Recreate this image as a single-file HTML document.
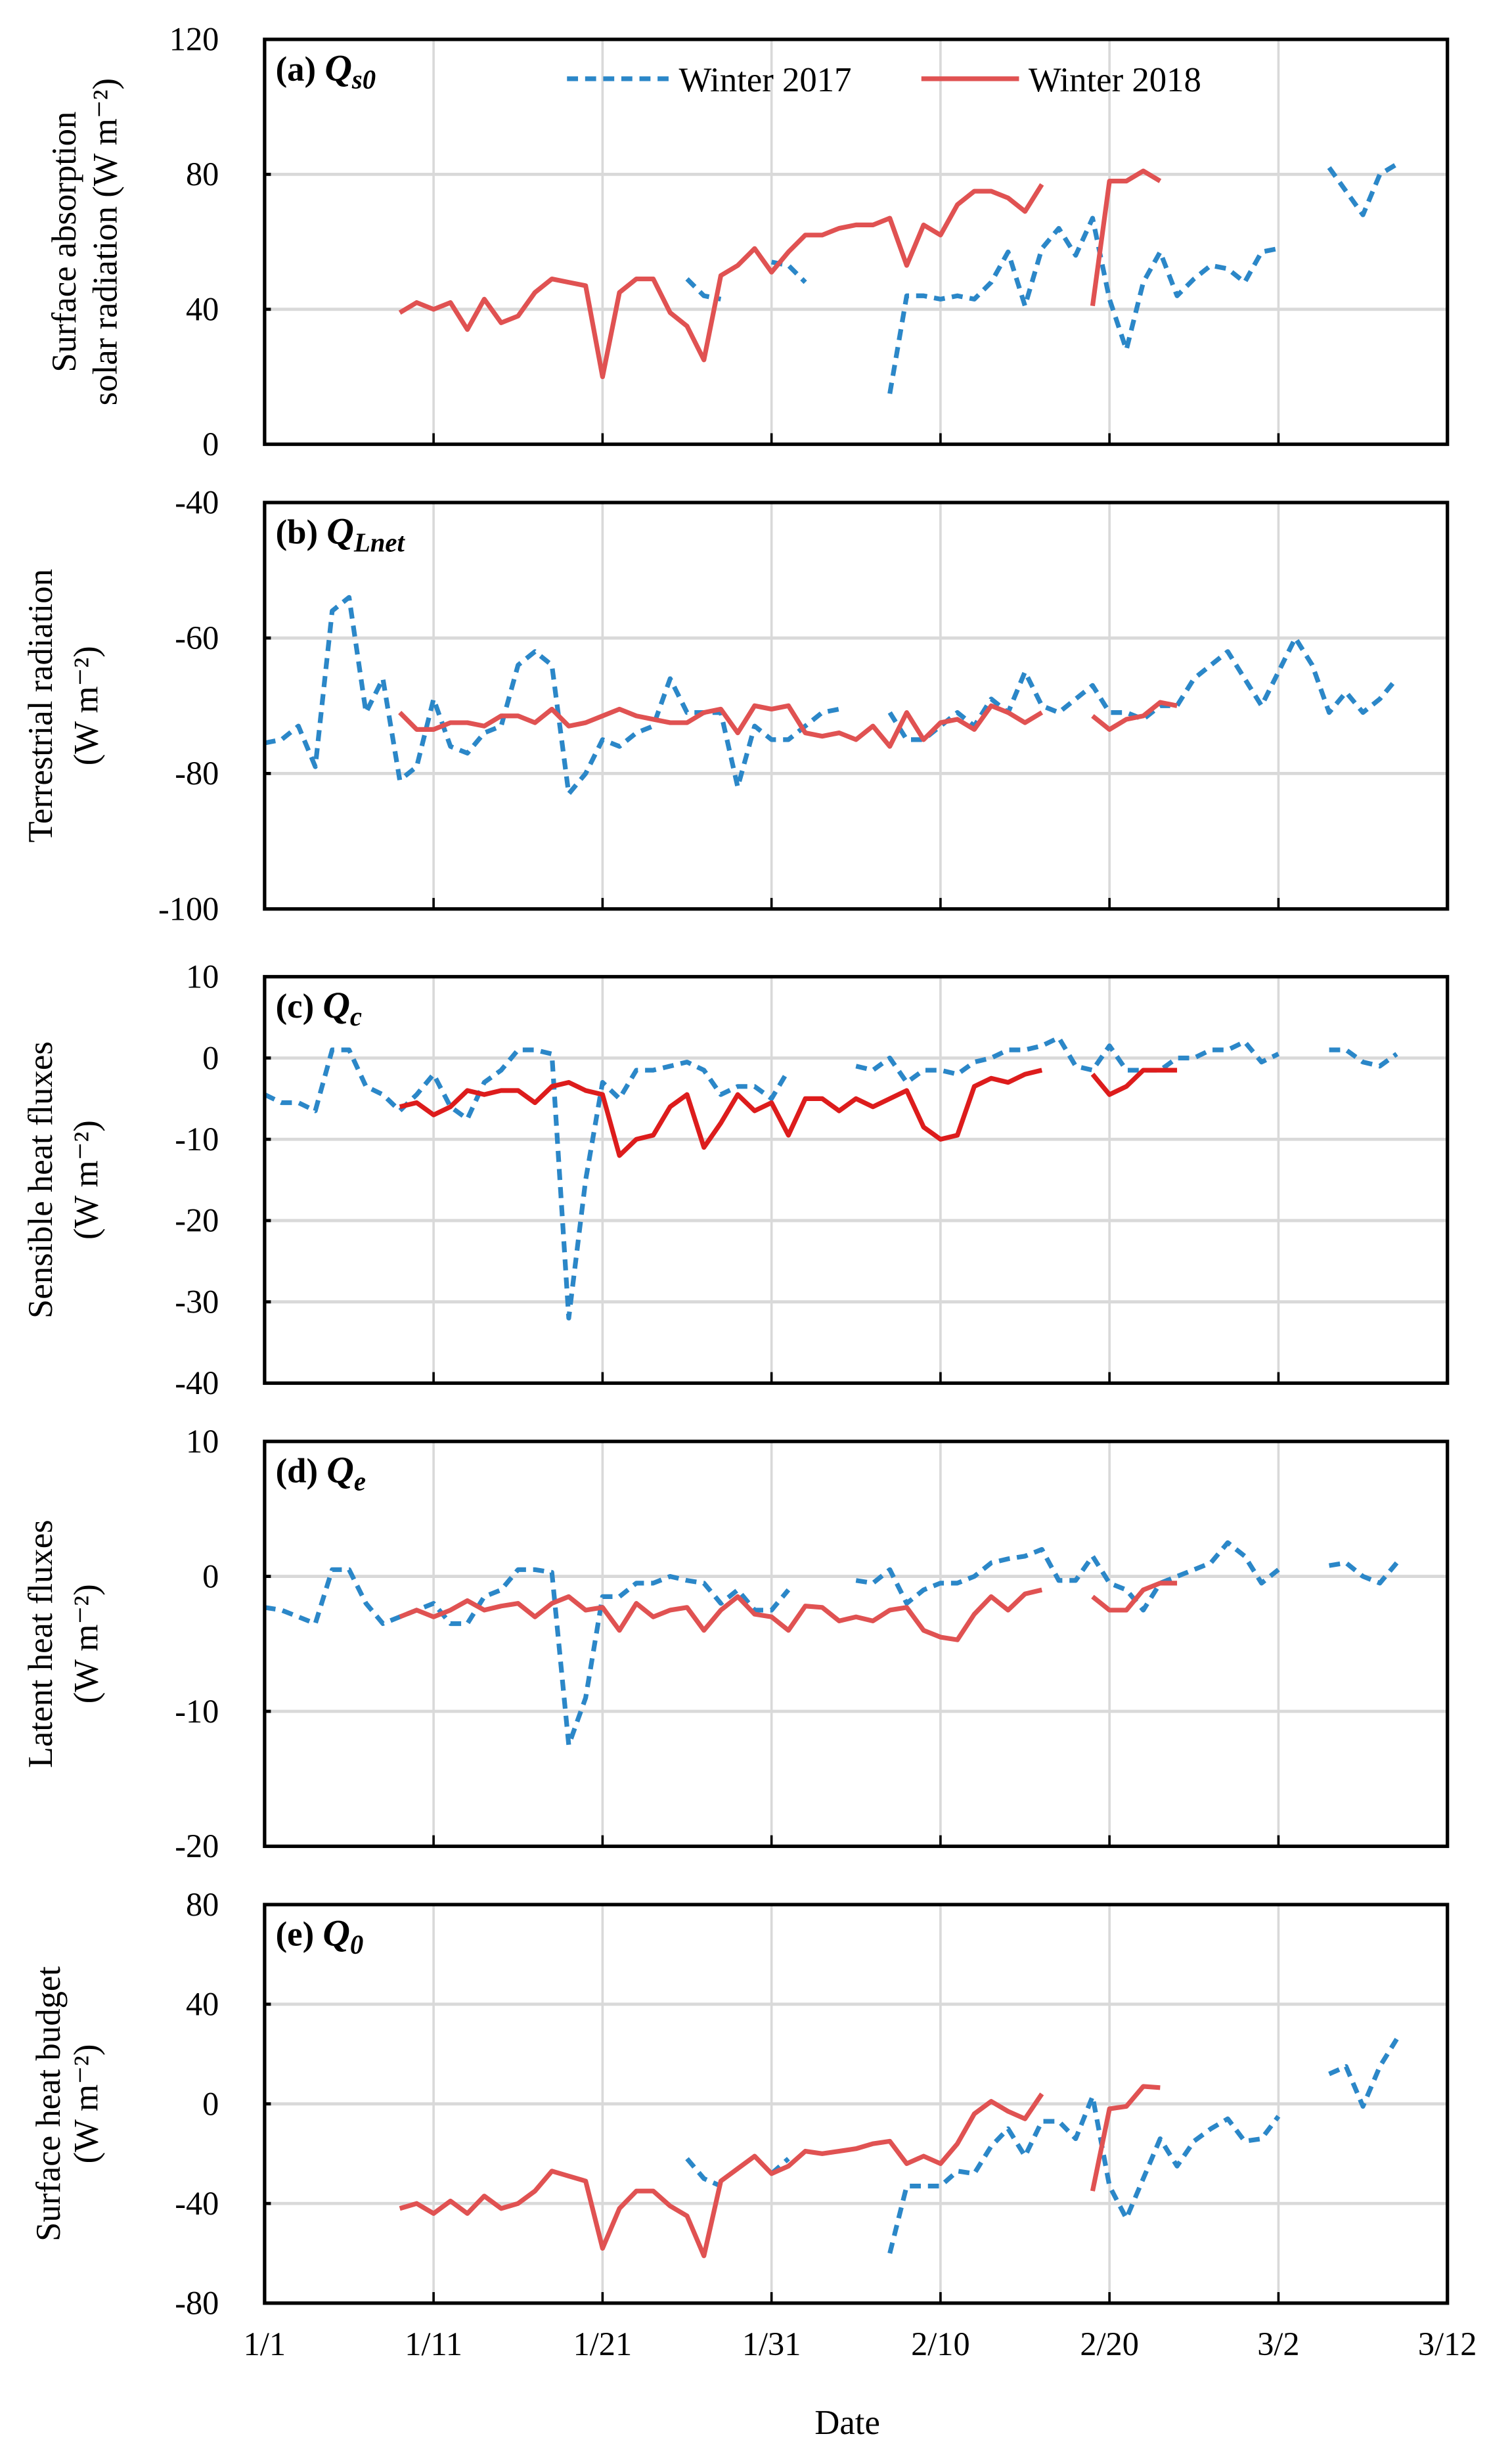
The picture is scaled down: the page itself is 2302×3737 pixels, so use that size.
<!DOCTYPE html>
<html><head><meta charset="utf-8"><style>
html,body{margin:0;padding:0;background:#fff}
svg{display:block}
text{font-family:"Liberation Serif",serif;fill:#000}
</style></head><body>
<svg id="chart" width="2302" height="3737" viewBox="0 0 960 1558.4" preserveAspectRatio="none" xmlns="http://www.w3.org/2000/svg"></svg>
<script>
// ---- data (day index 0 = 1/1) ----
const xTickLabels = ["1/1","1/11","1/21","1/31","2/10","2/20","3/2","3/12"];
const xTickDays = [0,10,20,30,40,50,60,70];

const qs0_2017_start = 25;
const qs0_2017 = [49,44,43,null,null,54,53,48,null,null,null,null,15,44,44,43,44,43,48,57,41,58,64,56,67,43,28,48,57,44,49,53,52,48,57,58,null,null,82,75,68,80,83];
const qs0_2018_start = 8;
const qs0_2018 = [39,42,40,42,34,43,36,38,45,49,48,47,20,45,49,49,39,35,25,50,53,58,51,57,62,62,64,65,65,67,53,65,62,71,75,75,73,69,77,null,null,41,78,78,81,78];

const qln_2017_start = 0;
const qln_2017 = [-75.5,-75,-73,-79,-56,-54,-71,-66,-81,-79,-69,-76,-77,-74,-73,-64,-62,-64,-83,-80,-75,-76,-74,-73,-66,-71,-71,-71,-82,-73,-75,-75,-73,-71,-70.5,null,null,-71,-75,-75,-73,-71,-73,-69,-71,-65,-70,-71,-69,-67,-71,-71,-72,-70,-70,-66,-64,-62,-66,-70,-65,-60,-64,-71,-68,-71,-69,-66];
const qln_2018_start = 8;
const qln_2018 = [-71,-73.5,-73.5,-72.5,-72.5,-73,-71.5,-71.5,-72.5,-70.5,-73,-72.5,-71.5,-70.5,-71.5,-72,-72.5,-72.5,-71,-70.5,-74,-70,-70.5,-70,-74,-74.5,-74,-75,-73,-76,-71,-75,-72.5,-72,-73.5,-70,-71,-72.5,-71,null,null,-71.5,-73.5,-72,-71.5,-69.5,-70];

const qc_2017_start = 0;
const qc_2017 = [-4.5,-5.5,-5.5,-6.5,1,1,-3.5,-4.5,-6.5,-4.5,-2,-6,-7.5,-3,-1.5,1,1,0.5,-32,-15,-3,-5,-1.5,-1.5,-1,-0.5,-1.5,-4.5,-3.5,-3.5,-5,-1.5,null,null,null,-1,-1.5,0,-3,-1.5,-1.5,-2,-0.5,0,1,1,1.5,2.5,-1,-1.5,1.5,-1.5,-1.5,-1.5,0,0,1,1,2,-0.5,0.5,null,null,1,1,-0.5,-1,0.5];
const qc_2018_start = 8;
const qc_2018 = [-6,-5.5,-7,-6,-4,-4.5,-4,-4,-5.5,-3.5,-3,-4,-4.5,-12,-10,-9.5,-6,-4.5,-11,-8,-4.5,-6.5,-5.5,-9.5,-5,-5,-6.5,-5,-6,-5,-4,-8.5,-10,-9.5,-3.5,-2.5,-3,-2,-1.5,null,null,-2,-4.5,-3.5,-1.5,-1.5,-1.5];

const qe_2017_start = 0;
const qe_2017 = [-2.3,-2.5,-3,-3.5,0.5,0.5,-2,-3.5,-3,-2.5,-2,-3.5,-3.5,-1.5,-1,0.5,0.5,0.3,-12.5,-9,-1.5,-1.5,-0.5,-0.5,0,-0.3,-0.5,-2,-1,-2.5,-2.5,-1,null,null,null,-0.3,-0.5,0.5,-2,-1,-0.5,-0.5,0,1,1.3,1.5,2,-0.3,-0.3,1.5,-0.5,-1,-2.5,-0.5,0,0.5,1,2.5,1.5,-0.5,0.5,null,null,0.8,1,0,-0.5,1];
const qe_2018_start = 8;
const qe_2018 = [-3,-2.5,-3,-2.5,-1.8,-2.5,-2.2,-2,-3,-2,-1.5,-2.5,-2.3,-4,-2,-3,-2.5,-2.3,-4,-2.5,-1.5,-2.8,-3,-4,-2.2,-2.3,-3.3,-3,-3.3,-2.5,-2.3,-4,-4.5,-4.7,-2.8,-1.5,-2.5,-1.3,-1,null,null,-1.5,-2.5,-2.5,-1,-0.5,-0.5];

const q0_2017_start = 25;
const q0_2017 = [-22,-30,-33,null,null,-28,-22,null,null,null,null,null,-60,-33,-33,-33,-27,-28,-17,-10,-21,-7,-7,-14,3,-33,-46,-30,-14,-25,-15,-10,-6,-15,-14,-5,null,null,12,15,-1,15,26];
const q0_2018_start = 8;
const q0_2018 = [-42,-40,-44,-39,-44,-37,-42,-40,-35,-27,-29,-31,-58,-42,-35,-35,-41,-45,-61,-31,-26,-21,-28,-25,-19,-20,-19,-18,-16,-15,-24,-21,-24,-16,-4,1,-3,-6,4,null,null,-35,-2,-1,7,6.5];

const ticksA = [0,40,80,120];
const ticksB = [-100,-80,-60,-40];
const ticksC = [-40,-30,-20,-10,0,10];
const ticksD = [-20,-10,0,10];
const ticksE = [-80,-40,0,40,80];

// ---- drawing ----
const NS = "http://www.w3.org/2000/svg";
const svg = document.getElementById("chart");
const X0 = 168, X1 = 919, DAYS = 70;
const xs = d => X0 + (X1 - X0) * d / DAYS;
function mk(tag, attrs, parent) {
  const e = document.createElementNS(NS, tag);
  for (const k in attrs) e.setAttribute(k, attrs[k]);
  (parent || svg).appendChild(e);
  return e;
}
const BLUE = "#2b87c8", RED = "#e05252";

const panels = [
  {key:"a", top:25, bot:282, ticks:ticksA, label:"(a) ", sym:"Q", sub:"s0",
   s17:[qs0_2017_start, qs0_2017], s18:[qs0_2018_start, qs0_2018], title:["Surface absorption","solar radiation (W m\u207B\u00B2)"], tx:[48,74], red:RED},
  {key:"b", top:319, bot:577, ticks:ticksB, label:"(b) ", sym:"Q", sub:"Lnet",
   s17:[qln_2017_start, qln_2017], s18:[qln_2018_start, qln_2018], title:["Terrestrial radiation","(W m\u207B\u00B2)"], tx:[33,62], red:RED},
  {key:"c", top:620, bot:878, ticks:ticksC, label:"(c) ", sym:"Q", sub:"c",
   s17:[qc_2017_start, qc_2017], s18:[qc_2018_start, qc_2018], title:["Sensible heat fluxes","(W m\u207B\u00B2)"], tx:[33,62], red:"#dd1c1c"},
  {key:"d", top:915, bot:1172, ticks:ticksD, label:"(d) ", sym:"Q", sub:"e",
   s17:[qe_2017_start, qe_2017], s18:[qe_2018_start, qe_2018], title:["Latent heat fluxes","(W m\u207B\u00B2)"], tx:[33,62], red:RED},
  {key:"e", top:1209, bot:1462, ticks:ticksE, label:"(e) ", sym:"Q", sub:"0",
   s17:[q0_2017_start, q0_2017], s18:[q0_2018_start, q0_2018], title:["Surface heat budget","(W m\u207B\u00B2)"], tx:[38,62], red:RED}
];

function drawSeries(g, ys, start, vals, color, dashed, name) {
  let seg = [];
  const segs = [];
  vals.forEach((v, i) => {
    if (v === null) { if (seg.length) segs.push(seg); seg = []; }
    else seg.push([xs(start + i), ys(v)]);
  });
  if (seg.length) segs.push(seg);
  segs.forEach(s => {
    const p = mk("polyline", {points: s.map(q => q[0].toFixed(2)+","+q[1].toFixed(2)).join(" "),
      fill:"none", stroke:color, "stroke-width":3, "stroke-linejoin":"round",
      "stroke-dasharray": dashed ? "7 4.5" : "none"}, g);
    
    
  });
}

panels.forEach(P => {
  const g = mk("g", {});
  
  
  const lo = P.ticks[0], hi = P.ticks[P.ticks.length - 1];
  const ys = v => P.bot - (P.bot - P.top) * (v - lo) / (hi - lo);
  xTickDays.slice(1, -1).forEach(d => {
    const l = mk("line", {x1:xs(d), x2:xs(d), y1:P.top, y2:P.bot, stroke:"#d9d9d9", "stroke-width":1.5}, g);
    
    
    const t = mk("line", {x1:xs(d), x2:xs(d), y1:P.bot-7, y2:P.bot, stroke:"#000", "stroke-width":1.5}, g);
    
    
  });
  P.ticks.forEach((v, i) => {
    const y = ys(v);
    if (i > 0 && i < P.ticks.length - 1) {
      const l = mk("line", {x1:X0, x2:X1, y1:y, y2:y, stroke:"#d9d9d9", "stroke-width":2}, g);
      
      
      const tk = mk("line", {x1:X0, x2:X0+4, y1:y, y2:y, stroke:"#000", "stroke-width":2}, g);
      
      
    }
    const t = mk("text", {x:139, y:y+7, "text-anchor":"end", "font-size":21}, g);
    t.textContent = v;
    
    
  });
  drawSeries(g, ys, P.s17[0], P.s17[1], BLUE, true, 'series-winter-2017');
  drawSeries(g, ys, P.s18[0], P.s18[1], P.red, false, 'series-winter-2018');
  const box = mk("rect", {x:X0, y:P.top, width:X1-X0, height:P.bot-P.top, fill:"none", stroke:"#000", "stroke-width":2.2}, g);
  
  
  const lab = mk("text", {x:175, y:P.top+26, "font-size":22, "font-weight":"bold"}, g);
  
  
  const t1 = mk("tspan", {}, lab); t1.textContent = P.label;
  const t2 = mk("tspan", {"font-style":"italic", "font-size":24}, lab); t2.textContent = P.sym;
  const t3 = mk("tspan", {"font-style":"italic", "font-size":17, dy:5}, lab); t3.textContent = P.sub;
  const cy = (P.top + P.bot) / 2;
  P.title.forEach((line, i) => {
    const t = mk("text", {x:P.tx[i], y:cy, "text-anchor":"middle", "font-size":22,
      transform:"rotate(-90 " + P.tx[i] + " " + cy + ")"}, g);
    t.textContent = line;
    
    
  });
});

xTickLabels.forEach((lbl, i) => {
  const t = mk("text", {x:xs(xTickDays[i]), y:1495, "text-anchor":"middle", "font-size":21});
  t.textContent = lbl;
  
  
});
const xt = mk("text", {x:538, y:1545, "text-anchor":"middle", "font-size":22});
xt.textContent = "Date";



const lg = mk("g", {});


const l1 = mk("line", {x1:360, x2:425, y1:50, y2:50, stroke:BLUE, "stroke-width":3, "stroke-dasharray":"7 4.5"}, lg);


const lt1 = mk("text", {x:431, y:58, "font-size":22}, lg);
lt1.textContent = "Winter 2017";


const l2 = mk("line", {x1:585, x2:647, y1:50, y2:50, stroke:RED, "stroke-width":3}, lg);


const lt2 = mk("text", {x:653, y:58, "font-size":22}, lg);
lt2.textContent = "Winter 2018";


</script>
</body></html>
